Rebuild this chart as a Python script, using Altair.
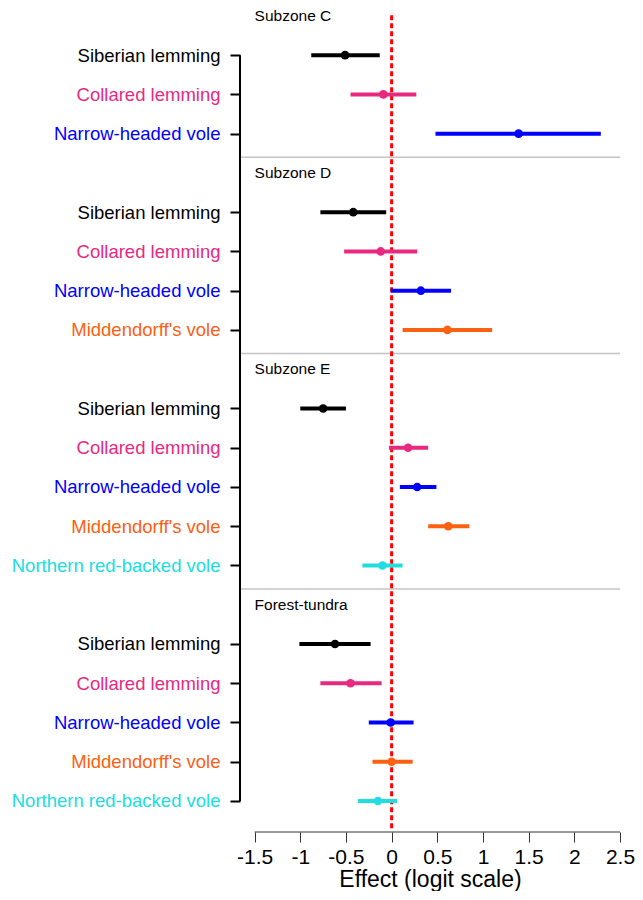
import altair as alt
import pandas as pd

# ---- data ----
zones = ["Subzone C", "Subzone D", "Subzone E", "Forest-tundra"]
zone_rows = [-1, 3, 8, 14]
separators = [2.6, 7.6, 13.6]

rows = [0, 1, 2, 4, 5, 6, 7, 9, 10, 11, 12, 13, 15, 16, 17, 18, 19]
species = [
    "Siberian lemming", "Collared lemming", "Narrow-headed vole",
    "Siberian lemming", "Collared lemming", "Narrow-headed vole", "Middendorff's vole",
    "Siberian lemming", "Collared lemming", "Narrow-headed vole", "Middendorff's vole", "Northern red-backed vole",
    "Siberian lemming", "Collared lemming", "Narrow-headed vole", "Middendorff's vole", "Northern red-backed vole",
]
est = [-0.51, -0.09, 1.39,
       -0.42, -0.12, 0.32, 0.61,
       -0.75, 0.18, 0.28, 0.62, -0.10,
       -0.62, -0.45, -0.01, 0.00, -0.15]
lo = [-0.88, -0.45, 0.48,
      -0.78, -0.52, -0.01, 0.12,
      -1.00, -0.03, 0.09, 0.40, -0.32,
      -1.01, -0.78, -0.25, -0.21, -0.37]
hi = [-0.13, 0.27, 2.29,
      -0.06, 0.28, 0.65, 1.10,
      -0.50, 0.40, 0.49, 0.85, 0.12,
      -0.23, -0.11, 0.24, 0.23, 0.06]

species_order = ["Siberian lemming", "Collared lemming", "Narrow-headed vole",
                 "Middendorff's vole", "Northern red-backed vole"]
species_colors = ["#000000", "#E7297F", "#0000FF", "#FC6011", "#20DDE0"]

x_ticks = [-1.5, -1, -0.5, 0, 0.5, 1, 1.5, 2, 2.5]

# ---- layout constants (scale extents) ----
X_MIN, X_MAX = -1.66, 2.5
Y_TOP, Y_BOT = -1.1, 19.79
FONT = "Liberation Sans"

df = pd.DataFrame({"pos": rows, "species": species, "est": est, "lo": lo, "hi": hi})
zdf = pd.DataFrame({"zone": zones, "pos": zone_rows, "x": [-1.5] * len(zones)})
sdf = pd.DataFrame({"pos": separators, "x": [X_MIN] * 3, "x2": [2.5] * 3})
refdf = pd.DataFrame({"x": [0.0], "y": [-1.02], "y2": [19.72]})
yaxdf = pd.DataFrame({"x": [X_MIN], "y": [0], "y2": [19]})
xaxdf = pd.DataFrame({"y": [Y_BOT], "x": [-1.5], "x2": [2.5]})

# label lookup arrays for the y axis
names = [""] * 20
cols = ["black"] * 20
for r, s in zip(rows, species):
    names[r] = s
    cols[r] = species_colors[species_order.index(s)]
names_js = "[" + ",".join("'" + n.replace("'", "\\'") + "'" for n in names) + "]"
cols_js = "[" + ",".join("'" + c + "'" for c in cols) + "]"

xscale = alt.Scale(domain=[X_MIN, X_MAX], nice=False, zero=False)
yscale = alt.Scale(domain=[Y_TOP, Y_BOT], nice=False, zero=False, reverse=True)

xaxis = alt.Axis(values=x_ticks, domain=False, grid=False, tickSize=10, tickWidth=1,
                 tickColor="#333333", labelFont=FONT, labelFontSize=21, labelColor="black",
                 labelPadding=4, labelFlush=False, labelOverlap=False,
                 labelExpr="toString(datum.value)",
                 title="Effect (logit scale)", titleFont=FONT, titleFontSize=23,
                 titleFontWeight="normal", titleColor="black", titlePadding=1)
yaxis = alt.Axis(values=rows, domain=False, grid=False, tickSize=10, tickWidth=2,
                 tickColor="black", labelFont=FONT, labelFontSize=18.5,
                 labelPadding=10, labelFlush=False, labelOverlap=False, labelLimit=400,
                 labelExpr=names_js + "[datum.value]",
                 labelColor=alt.expr(cols_js + "[datum.value]"),
                 title=None)


def X(f):
    return alt.X(f, scale=xscale, axis=xaxis)


def Y(f):
    return alt.Y(f, scale=yscale, axis=yaxis)


color = alt.Color("species:N", scale=alt.Scale(domain=species_order, range=species_colors),
                  legend=None)

seps = alt.Chart(sdf).mark_rule(color="#C4C4C4", strokeWidth=1.3).encode(
    x=X("x:Q"), x2="x2:Q", y=Y("pos:Q"))

ref = alt.Chart(refdf).mark_rule(color="#FF0000", strokeWidth=3, strokeDash=[5, 3]).encode(
    x=X("x:Q"), y=Y("y:Q"), y2="y2:Q")

yline = alt.Chart(yaxdf).mark_rule(color="black", strokeWidth=2).encode(
    x=X("x:Q"), y=Y("y:Q"), y2="y2:Q")

xline = alt.Chart(xaxdf).mark_rule(color="#333333", strokeWidth=1).encode(
    x=X("x:Q"), x2="x2:Q", y=Y("y:Q"))

ci = alt.Chart(df).mark_rule(strokeWidth=4).encode(
    x=X("lo:Q"), x2="hi:Q", y=Y("pos:Q"), color=color)

pts = alt.Chart(df).mark_circle(size=75, opacity=1).encode(
    x=X("est:Q"), y=Y("pos:Q"), color=color)

titles = alt.Chart(zdf).mark_text(align="left", baseline="middle", font=FONT,
                                  fontSize=15.5, color="black").encode(
    x=X("x:Q"), y=Y("pos:Q"), text="zone:N")

chart = alt.layer(seps, ref, yline, xline, ci, pts, titles).properties(
    width=380, height=820,
    padding={"left": 3, "top": 0, "right": 0, "bottom": 0},
).configure_view(stroke=None)

chart.save("out.html", embed_options={"renderer": "svg", "actions": False})
